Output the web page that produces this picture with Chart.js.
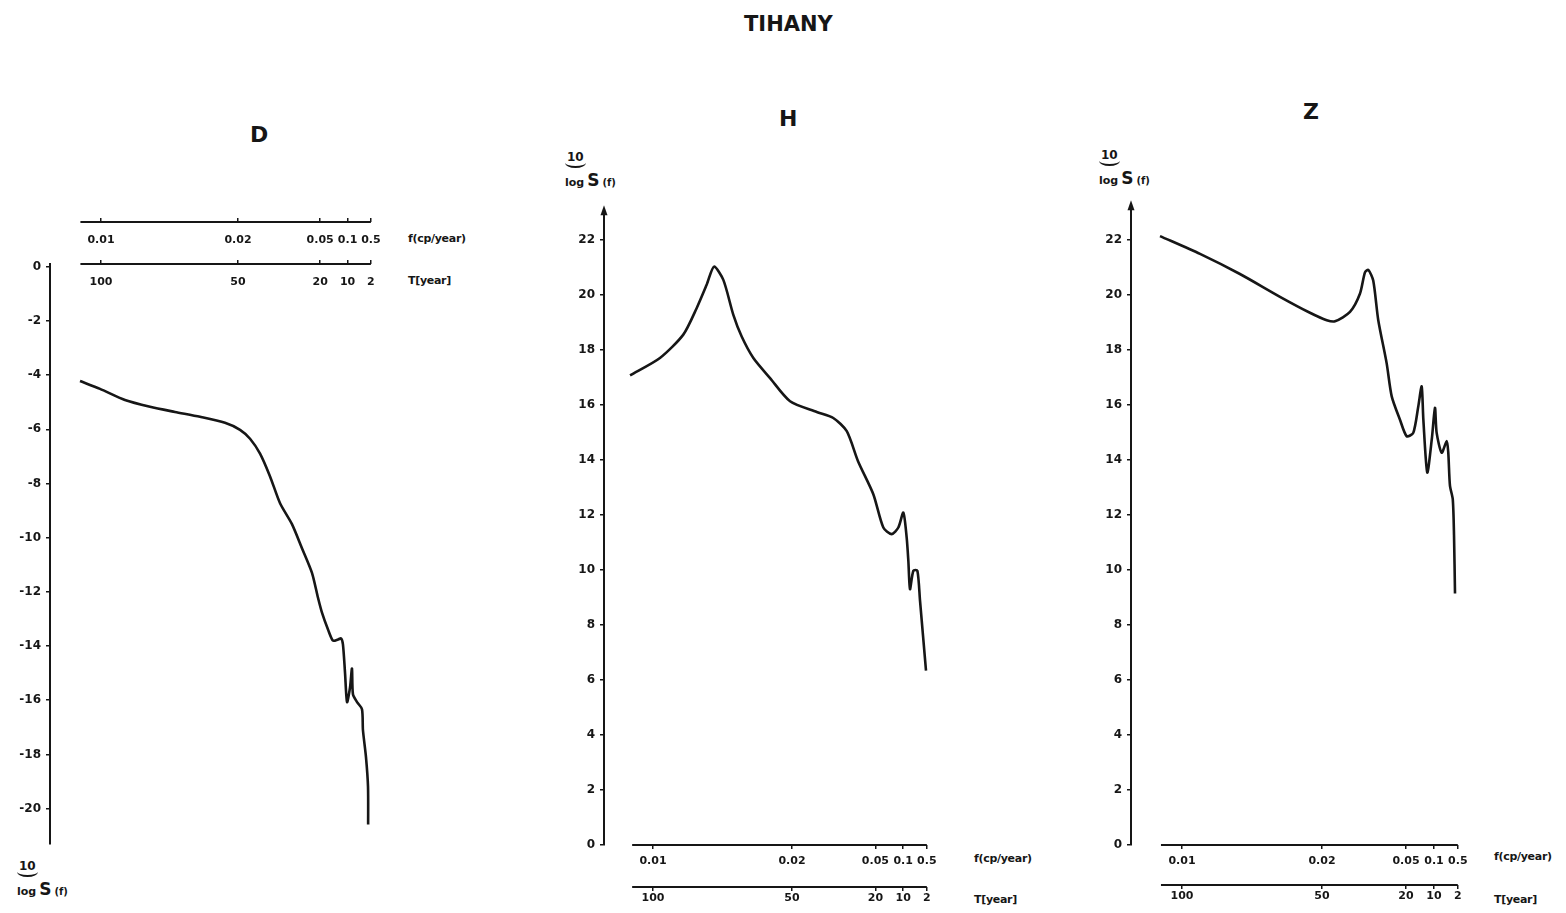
<!DOCTYPE html>
<html>
<head>
<meta charset="utf-8">
<script src="https://cdn.jsdelivr.net/npm/chart.js@4.4.0/dist/chart.umd.min.js"></script>
<style>
  body { margin: 0; width: 1566px; height: 913px; overflow: hidden; background: #fff; position: relative;
         font-family: "DejaVu Sans", sans-serif; font-weight: bold; color: #161616; }
  canvas { position: absolute; }
  .txt { position: absolute; white-space: nowrap; }
  .title { font-size: 21px; }
  .panel { font-size: 22px; }
  .unit { font-size: 11px; letter-spacing: -0.3px; }
  .ylab { position: absolute; line-height: 1; }
  .ylab .ten { display: inline-block; font-size: 12px; padding: 0 2px 3px; border-bottom: 2px solid #161616;
               border-radius: 0 0 12px 12px / 0 0 6px 6px; }
  .ylab .row { display: block; margin-top: 4px; }
  .ylab .lg { font-size: 11px; }
  .ylab .s { font-size: 17px; margin-left: 3px; }
  .ylab .f { font-size: 10px; margin-left: 3px; }
</style>
</head>
<body>
<div class="txt title" style="left:744px;top:12px">TIHANY</div>
<div class="txt panel" style="left:250px;top:122px">D</div>
<div class="txt panel" style="left:779px;top:106px">H</div>
<div class="txt panel" style="left:1303px;top:99px">Z</div>

<div class="ylab" style="left:565px;top:148px"><span class="ten">10</span><span class="row"><span class="lg">log</span><span class="s">S</span><span class="f">(f)</span></span></div>
<div class="ylab" style="left:1099px;top:146px"><span class="ten">10</span><span class="row"><span class="lg">log</span><span class="s">S</span><span class="f">(f)</span></span></div>
<div class="ylab" style="left:17px;top:857px"><span class="ten">10</span><span class="row"><span class="lg">log</span><span class="s">S</span><span class="f">(f)</span></span></div>

<div class="txt unit" style="left:408px;top:232px">f(cp/year)</div>
<div class="txt unit" style="left:408px;top:274px">T[year]</div>
<div class="txt unit" style="left:974px;top:852px">f(cp/year)</div>
<div class="txt unit" style="left:974px;top:893px">T[year]</div>
<div class="txt unit" style="left:1494px;top:850px">f(cp/year)</div>
<div class="txt unit" style="left:1494px;top:893px">T[year]</div>

<canvas id="chartD" width="395" height="656" style="left:0px;top:200px"></canvas>
<canvas id="chartH" width="392" height="711" style="left:559px;top:200px"></canvas>
<canvas id="chartZ" width="396" height="714" style="left:1086px;top:195px"></canvas>

<script>
// frequency / period axis: ticks sit at fixed positions along the (non-uniform) axis
const tickPos = [0, 1, 1.6, 1.8, 1.97];
const freqLabels = ['0.01', '0.02', '0.05', '0.1', '0.5'];
const periodLabels = ['100', '50', '20', '10', '2'];
const axisStart = -0.15;

const dTicks = [0, -2, -4, -6, -8, -10, -12, -14, -16, -18, -20];
const hzTicks = [0, 2, 4, 6, 8, 10, 12, 14, 16, 18, 20, 22];

// D component
const dPos = [-0.153, -0.007, 0.175, 0.358, 0.54, 0.723, 0.905, 1.015, 1.088, 1.161, 1.234, 1.307, 1.394, 1.467,
  1.54, 1.584, 1.613, 1.657, 1.693, 1.73, 1.752, 1.766, 1.781, 1.796, 1.818, 1.832, 1.839, 1.869, 1.905, 1.912,
  1.934, 1.949, 1.95];
const dVal = [-4.22, -4.51, -4.92, -5.17, -5.36, -5.54, -5.76, -6.02, -6.35, -6.9, -7.74, -8.73, -9.5, -10.39,
  -11.3, -12.22, -12.77, -13.39, -13.8, -13.76, -13.72, -13.94, -14.97, -16.07, -15.52, -14.83, -15.78, -16.07,
  -16.33, -17.1, -18.09, -19.19, -20.59];

// H component
const hPos = [-0.165, 0.05, 0.218, 0.314, 0.386, 0.439, 0.506, 0.578, 0.638, 0.722, 0.842, 0.986, 1.178, 1.297,
  1.394, 1.475, 1.585, 1.657, 1.717, 1.765, 1.801, 1.825, 1.837, 1.849, 1.873, 1.902, 1.921, 1.964];
const hVal = [17.07, 17.7, 18.55, 19.51, 20.36, 21.02, 20.54, 19.27, 18.48, 17.7, 16.97, 16.13, 15.74, 15.52,
  15.04, 13.95, 12.75, 11.54, 11.3, 11.54, 12.08, 11.17, 10.33, 9.3, 9.97, 9.97, 8.88, 6.34];

// Z component
const zPos = [-0.157, 0.129, 0.414, 0.7, 0.914, 1.034, 1.093, 1.2, 1.271, 1.307, 1.331, 1.366, 1.402, 1.462, 1.498,
  1.557, 1.605, 1.652, 1.688, 1.712, 1.724, 1.752, 1.784, 1.807, 1.819, 1.855, 1.891, 1.902, 1.914, 1.934, 1.943, 1.95];
const zVal = [22.15, 21.5, 20.77, 19.94, 19.36, 19.09, 19.05, 19.39, 20.05, 20.83, 20.92, 20.53, 19.09, 17.52, 16.32,
  15.47, 14.87, 14.99, 15.96, 16.68, 15.47, 13.55, 14.75, 15.9, 14.99, 14.27, 14.69, 14.27, 13.07, 12.58, 11.27, 9.15];

const ink = '#161616';

const axisLines = {
  id: 'axisLines',
  afterDraw(chart, args, opts) {
    const ctx = chart.ctx;
    ctx.save();
    ctx.strokeStyle = ink;
    ctx.fillStyle = ink;
    ctx.lineWidth = 2;
    ['x', 'x2'].forEach(id => {
      const s = chart.scales[id];
      const y = s.position === 'top' ? s.bottom : s.top;
      ctx.beginPath();
      ctx.moveTo(s.getPixelForValue(axisStart), y);
      ctx.lineTo(s.getPixelForValue(tickPos[tickPos.length - 1]), y);
      ctx.stroke();
    });
    if (opts.arrow) {
      const a = chart.chartArea;
      ctx.beginPath();
      ctx.moveTo(a.left, a.top - 7);
      ctx.lineTo(a.left - 3.5, a.top + 3);
      ctx.lineTo(a.left + 3.5, a.top + 3);
      ctx.closePath();
      ctx.fill();
    }
    ctx.restore();
  }
};

// top axes (panel D) keep their labels under the line: mirror flips them and stops the clipping
function xScale(labels, opts) {
  const onTop = opts.position === 'top';
  return {
    type: 'linear',
    position: opts.position,
    weight: opts.weight,
    min: opts.min,
    max: 2.0,
    afterBuildTicks: s => { s.ticks = tickPos.map(v => ({ value: v })); },
    afterFit: s => { s.height = opts.height; },
    border: { display: false },
    grid: { drawOnChartArea: false, tickLength: 4, color: ink, lineWidth: 1.5 },
    ticks: {
      autoSkip: false, maxRotation: 0, minRotation: 0, padding: opts.padding, color: ink,
      mirror: onTop,
      font: { family: 'DejaVu Sans', weight: 'bold', size: 11 },
      callback: (v, i) => labels[i]
    }
  };
}

function makePanel(id, pos, val, cfg) {
  const top = cfg.axesOnTop;
  new Chart(document.getElementById(id), {
    type: 'line',
    data: {
      datasets: [{
        data: pos.map((p, i) => ({ x: p, y: val[i] })),
        borderColor: ink,
        borderWidth: 2.6,
        pointRadius: 0,
        tension: 0.25,
        clip: false
      }]
    },
    options: {
      responsive: false,
      animation: false,
      layout: { padding: cfg.padding },
      plugins: { legend: { display: false }, tooltip: { enabled: false }, axisLines: { arrow: cfg.arrow } },
      scales: {
        // frequency axis: outer one when on top (D), inner one when at the bottom (H, Z)
        x: xScale(freqLabels, { position: top ? 'top' : 'bottom', weight: top ? 1 : 0, min: cfg.xMin,
          height: cfg.fHeight, padding: top ? 12 : 6 }),
        x2: xScale(periodLabels, { position: top ? 'top' : 'bottom', weight: top ? 0 : 1, min: cfg.xMin,
          height: cfg.tHeight, padding: top ? 12 : 1 }),
        y: {
          type: 'linear',
          position: 'left',
          min: cfg.yMin,
          max: cfg.yMax,
          afterBuildTicks: s => { s.ticks = cfg.yTicks.map(v => ({ value: v })); },
          afterFit: s => { s.width = cfg.yWidth; },
          border: { display: true, color: ink, width: 2 },
          grid: { drawOnChartArea: false, tickLength: 4, color: ink, lineWidth: 1.5 },
          ticks: { padding: 5, color: ink, font: { family: 'DejaVu Sans', weight: 'bold', size: 12 } }
        }
      }
    },
    plugins: [axisLines]
  });
}

makePanel('chartD', dPos, dVal, {
  axesOnTop: true, xMin: -0.372, yMin: -21.3, yMax: 0.1, yTicks: dTicks, yWidth: 50,
  fHeight: 17, tHeight: 42, arrow: false, padding: { top: 5, bottom: 8, left: 0, right: 20 }
});
makePanel('chartH', hPos, hVal, {
  axesOnTop: false, xMin: -0.3525, yMin: 0, yMax: 23, yTicks: hzTicks, yWidth: 45,
  fHeight: 42, tHeight: 24, arrow: true, padding: { top: 10, bottom: 0, left: 0, right: 20 }
});
makePanel('chartZ', zPos, zVal, {
  axesOnTop: false, xMin: -0.364, yMin: 0, yMax: 23.2, yTicks: hzTicks, yWidth: 45,
  fHeight: 40, tHeight: 24, arrow: true, padding: { top: 8, bottom: 0, left: 0, right: 20 }
});
</script>
</body>
</html>
